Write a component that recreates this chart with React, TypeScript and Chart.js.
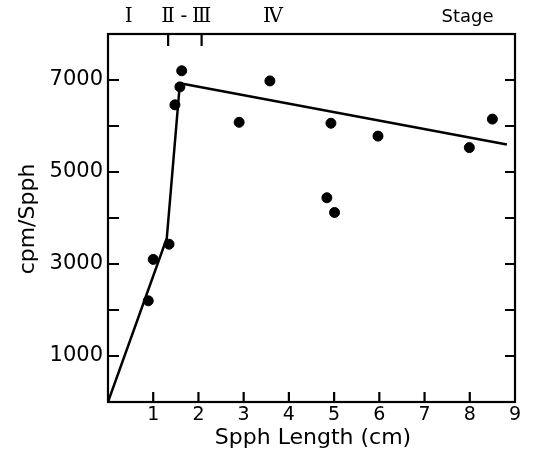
import React, { useEffect, useRef } from "react";
import { Chart, registerables } from "chart.js";

Chart.register(...registerables);

// Measured points: Spph length (cm) vs cpm/Spph
const lengthCm = [0.89, 1.0, 1.35, 1.48, 1.59, 1.63, 2.9, 3.58, 4.84, 4.93, 5.01, 5.97, 7.99, 8.5];
const cpmPerSpph = [2200, 3100, 3430, 6460, 6850, 7200, 6080, 6980, 4440, 6060, 4120, 5780, 5530, 6150];

// Fitted broken line
const fitX = [0, 1.3, 1.59, 8.82];
const fitY = [0, 3560, 6930, 5600];

// Axis ticks
const xTickValues = [1, 2, 3, 4, 5, 6, 7, 8];
const xTickLabels = [1, 2, 3, 4, 5, 6, 7, 8, 9];
const yTickValues = [1000, 2000, 3000, 4000, 5000, 6000, 7000];
const yTickLabels = [1000, 3000, 5000, 7000];

// Stage annotations along the top
const stageLabels = ["Ⅰ", "Ⅱ", "-", "Ⅲ", "Ⅳ", "Stage"];
const stagePositions = [0.46, 1.33, 1.68, 2.07, 3.65, 7.95];
const stageBoundaries = [1.33, 2.07];

const FONT = "'DejaVu Sans', sans-serif";

const framePlugin = {
  id: "framePlugin",
  afterDraw(chart: any) {
    const { ctx, chartArea } = chart;
    const xs = chart.scales.x;
    const ys = chart.scales.y;
    const { left, right, top, bottom } = chartArea;
    ctx.save();
    ctx.strokeStyle = "#000";
    ctx.lineWidth = 2.2;
    ctx.strokeRect(left, top, right - left, bottom - top);
    ctx.beginPath();
    yTickValues.forEach((v) => {
      const y = ys.getPixelForValue(v);
      ctx.moveTo(left, y);
      ctx.lineTo(left + 11, y);
      ctx.moveTo(right, y);
      ctx.lineTo(right - 10, y);
    });
    xTickValues.forEach((v) => {
      const x = xs.getPixelForValue(v);
      ctx.moveTo(x, bottom);
      ctx.lineTo(x, bottom - 10);
    });
    stageBoundaries.forEach((v) => {
      const x = xs.getPixelForValue(v);
      ctx.moveTo(x, top);
      ctx.lineTo(x, top + 12);
    });
    ctx.stroke();

    ctx.fillStyle = "#000";
    ctx.textAlign = "center";
    ctx.textBaseline = "middle";
    stageLabels.forEach((t, i) => {
      const x = xs.getPixelForValue(stagePositions[i]);
      if (t === "Stage") {
        ctx.font = `18px ${FONT}`;
      } else {
        ctx.font = `20px 'DejaVu Serif', serif`;
      }
      ctx.fillText(t, x, 17);
    });

    ctx.font = `22px ${FONT}`;
    ctx.fillText("Spph Length (cm)", 313, 438);
    ctx.translate(28, 219);
    ctx.rotate(-Math.PI / 2);
    ctx.fillText("cpm/Spph", 0, 0);
    ctx.restore();
  },
};

export default function App() {
  const ref = useRef<HTMLCanvasElement | null>(null);
  useEffect(() => {
    if (!ref.current) return;
    const chart = new Chart(ref.current, {
      type: "scatter",
      data: {
        datasets: [
          {
            label: "points",
            data: lengthCm.map((x, i) => ({ x, y: cpmPerSpph[i] })),
            backgroundColor: "#000",
            borderColor: "#000",
            pointRadius: 5,
            showLine: false,
          },
          {
            label: "fit",
            data: fitX.map((x, i) => ({ x, y: fitY[i] })),
            borderColor: "#000",
            borderWidth: 2.5,
            pointRadius: 0,
            showLine: true,
            fill: false,
          },
        ],
      },
      options: {
        animation: false,
        responsive: false,
        devicePixelRatio: 1,
        layout: { padding: { left: 0, top: 34, right: 18, bottom: 0 } },
        plugins: { legend: { display: false }, tooltip: { enabled: false } },
        scales: {
          x: {
            type: "linear",
            min: 0,
            max: 9,
            grid: { display: false, drawTicks: false },
            border: { display: false },
            afterBuildTicks: (scale: any) => {
              scale.ticks = xTickLabels.map((v) => ({ value: v }));
            },
            afterFit: (scale: any) => {
              scale.height = 54;
            },
            ticks: {
              padding: 2,
              color: "#000",
              font: { family: FONT, size: 19 },
              maxRotation: 0,
              autoSkip: false,
              callback: (v: any) => String(v),
            },
          },
          y: {
            type: "linear",
            min: 0,
            max: 8000,
            grid: { display: false, drawTicks: false },
            border: { display: false },
            afterBuildTicks: (scale: any) => {
              scale.ticks = yTickLabels.map((v) => ({ value: v }));
            },
            afterFit: (scale: any) => {
              scale.width = 108;
            },
            ticks: {
              padding: 5,
              color: "#000",
              font: { family: FONT, size: 21 },
              autoSkip: false,
              callback: (v: any) => String(v),
            },
          },
        },
      },
      plugins: [framePlugin],
    });
    return () => chart.destroy();
  }, []);
  return (
    <div style={{ position: "absolute", left: 0, top: 0, width: 533, height: 456, background: "#fff" }}>
      <canvas ref={ref} width={533} height={456} style={{ width: 533, height: 456 }} />
    </div>
  );
}
